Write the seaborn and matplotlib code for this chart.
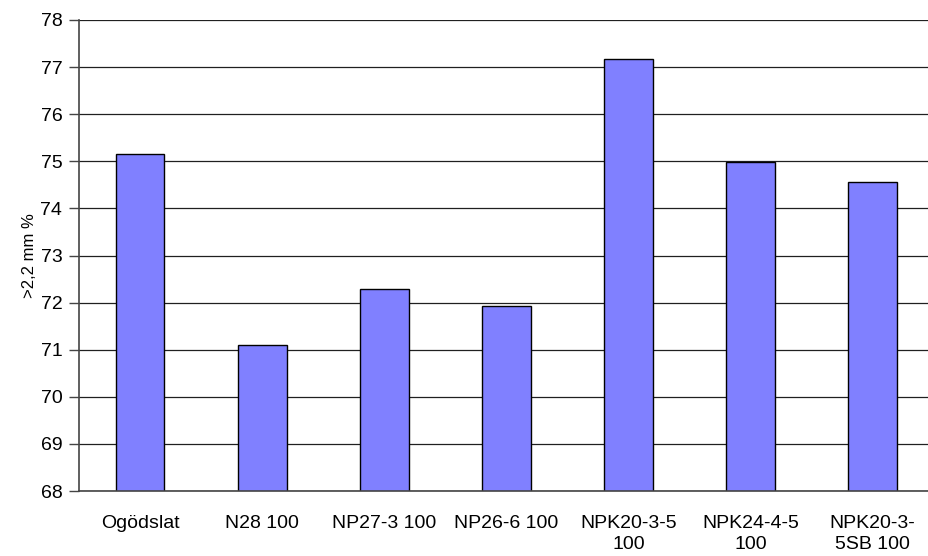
import numpy as np
import pandas as pd
import matplotlib
matplotlib.use("Agg")
import matplotlib.pyplot as plt
import seaborn as sns

# data
categories = ["Ogödslat", "N28 100", "NP27-3 100", "NP26-6 100",
              "NPK20-3-5\n100", "NPK24-4-5\n100", "NPK20-3-\n5SB 100"]
values = [75.16, 71.10, 72.28, 71.93, 77.18, 74.98, 74.55]
y_ticks = list(range(68, 79))

df = pd.DataFrame({"kategori": categories, "varde": values})

sns.set_theme(style="white")
plt.rcParams['font.family'] = ['Liberation Sans', 'DejaVu Sans']
plt.rcParams['text.color'] = 'black'
plt.rcParams['xtick.color'] = 'black'
plt.rcParams['ytick.color'] = 'black'
plt.rcParams['axes.labelcolor'] = 'black'

fig = plt.figure(figsize=(9.29, 5.56), dpi=100)
ax = fig.add_axes([79 / 929, 65 / 556, 854.5 / 929, 471 / 556])

sns.barplot(data=df, x="kategori", y="varde", color="#8080FF",
            edgecolor="black", linewidth=1, width=0.4, saturation=1, ax=ax)

ax.set_ylim(68, 78)
ax.set_xlim(-0.5, 6.5)
ax.set_yticks(y_ticks)
ax.set_yticklabels([str(t) for t in y_ticks], fontsize=14)
ax.yaxis.grid(True, color="#202020", linewidth=0.9)
ax.set_axisbelow(True)

# category labels centred, tick marks on the category boundaries
ax.set_xticks(range(len(categories)))
ax.set_xticklabels(categories, fontsize=14, linespacing=1.3)
ax.tick_params(axis="x", which="major", length=0, pad=17)
ax.set_xticks(np.arange(0.5, len(categories) - 0.5, 1), minor=True)
ax.tick_params(axis="x", which="minor", length=6, width=1, color="#444444", direction="out")
ax.tick_params(axis="y", length=7, width=1, color="#444444", direction="out", pad=5, left=True)

for side in ["top", "right"]:
    ax.spines[side].set_visible(False)
for side in ["left", "bottom"]:
    ax.spines[side].set_color("#444444")
    ax.spines[side].set_linewidth(1.2)

ax.set_xlabel("")
ax.set_ylabel(">2,2 mm %", fontsize=12)
ax.yaxis.set_label_coords((30 - 79) / 854.5, 0.5)
ax.yaxis.label.set_verticalalignment("center")

fig.savefig("out.png", dpi=100)
